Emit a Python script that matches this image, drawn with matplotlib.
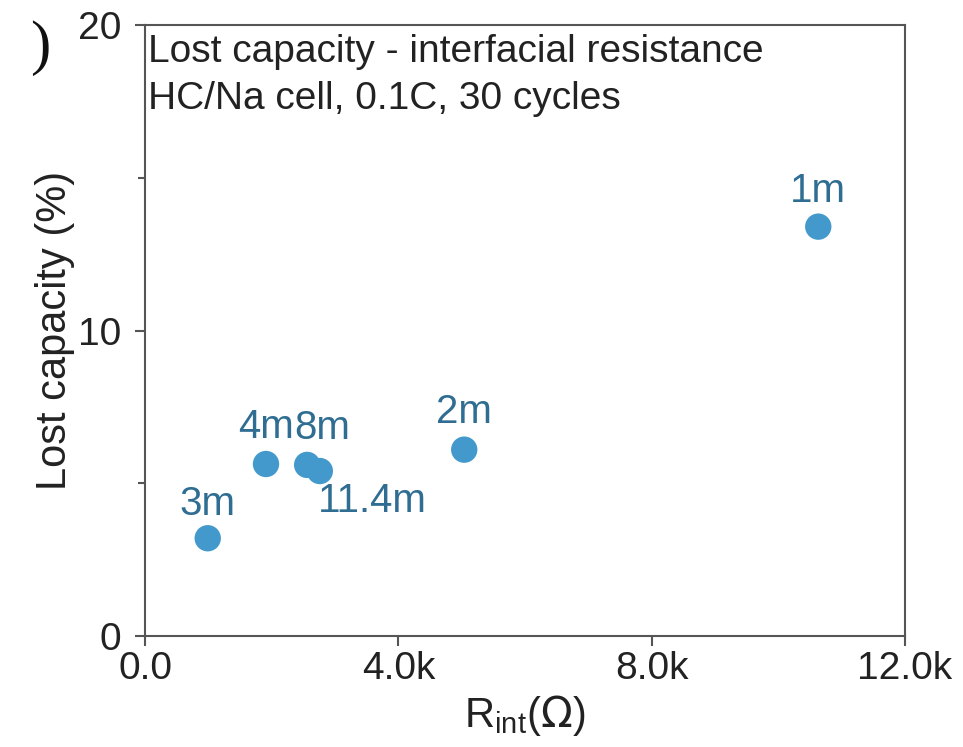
import matplotlib
matplotlib.use("Agg")
import matplotlib.pyplot as plt
from matplotlib.ticker import FuncFormatter, MultipleLocator

plt.rcParams['font.family'] = ['Liberation Sans', 'DejaVu Sans']

# interfacial resistance (ohm) vs lost capacity (%) after 30 cycles
labels = ['1m', '2m', '4m', '8m', '11.4m', '3m']
r_int = [10630, 5040, 1910, 2560, 2760, 990]
lost_cap = [13.4, 6.1, 5.63, 5.6, 5.4, 3.2]
# label offsets in pixels (dx, dy)
offsets = [(0, 36), (0, 38), (0, 37), (15, 37), (52, -30), (0, 34)]

text_col = '#222222'
dot_col = '#4399cc'
lab_col = '#2f6e92'

fig = plt.figure(figsize=(9.63, 7.47), dpi=100)
ax = fig.add_axes([0.1506, 0.1486, 0.7892, 0.8179])

ax.scatter(r_int, lost_cap, s=360, color=dot_col, edgecolors='none', zorder=3, clip_on=False)
for lab, x, y, (dx, dy) in zip(labels, r_int, lost_cap, offsets):
    ax.annotate(lab, (x, y), xytext=(dx, dy), textcoords='offset pixels',
                ha='center', va='center', fontsize=29, color=lab_col)

ax.set_xlim(0, 12000)
ax.set_ylim(0, 20)
ax.xaxis.set_major_locator(MultipleLocator(4000))
ax.xaxis.set_major_formatter(FuncFormatter(lambda v, p: f"{v/1000:.1f}k" if v else "0.0"))
ax.yaxis.set_major_locator(MultipleLocator(10))
ax.yaxis.set_minor_locator(MultipleLocator(5))

for sp in ax.spines.values():
    sp.set_color('#555555')
    sp.set_linewidth(1.5)
ax.tick_params(which='major', length=7, width=1.5, color='#555555', labelsize=28,
               labelcolor=text_col, pad=4)
ax.tick_params(axis='y', which='major', pad=10)
ax.tick_params(which='minor', length=5, width=1.5, color='#555555')

ax.set_xlabel(r'R$_\mathregular{int}$($\Omega$)', fontsize=30, color=text_col, labelpad=4)
ax.set_ylabel('Lost capacity (%)', fontsize=30, color=text_col, labelpad=2)

ax.text(0.004, 0.985, 'Lost capacity - interfacial resistance\nHC/Na cell, 0.1C, 30 cycles',
        transform=ax.transAxes, ha='left', va='top', fontsize=28, color=text_col,
        linespacing=1.38)

# panel letter, mostly cropped off
fig.text(0.031, 0.936, ')', fontsize=44, color='#111111', ha='left', va='center',
         family=['Liberation Serif', 'DejaVu Serif'])

fig.savefig('out.png', dpi=100, facecolor='white')
